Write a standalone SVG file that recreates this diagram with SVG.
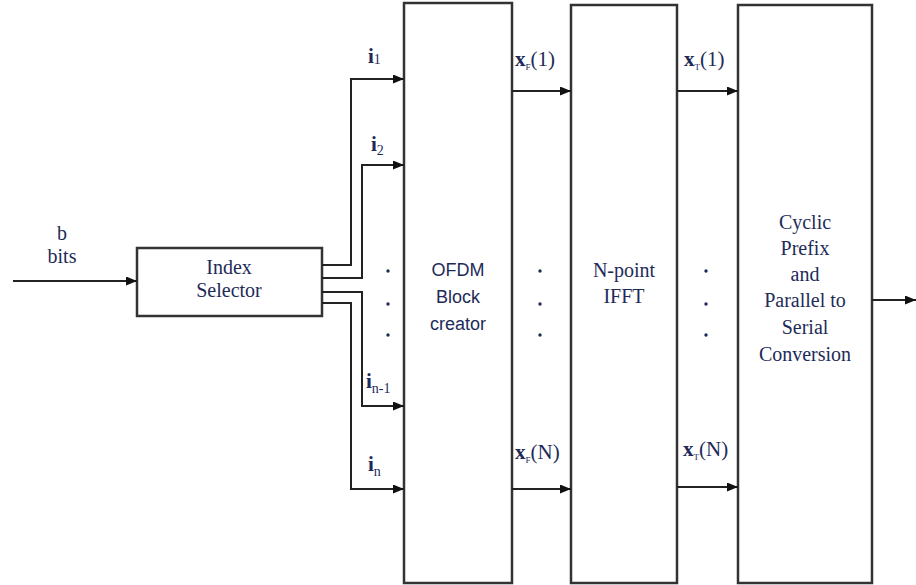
<svg xmlns="http://www.w3.org/2000/svg" width="916" height="585" viewBox="0 0 916 585">
<style>
.box{fill:#fff;stroke:#333;stroke-width:2.5}
.ln{fill:none;stroke:#222;stroke-width:2}
.t{font-family:"Liberation Serif",serif;font-size:20px;fill:#1e2b58;text-anchor:middle}
.s{font-family:"Liberation Sans",sans-serif;font-size:18px;fill:#1e2b58;text-anchor:middle}
.lb{font-family:"Liberation Serif",serif;font-size:21px;fill:#1e2b58}
.b{font-weight:bold}
.sub{font-size:14px}
.xs{font-size:9px}
.dot{fill:#1e2b58}
</style>
<defs>
<marker id="ah" viewBox="0 0 10 10" refX="10" refY="5" markerWidth="11" markerHeight="9" orient="auto" markerUnits="userSpaceOnUse" preserveAspectRatio="none">
<path d="M0,0 L10,5 L0,10 z" fill="#111"/>
</marker>
</defs>
<g id="input-label">
<text class="t" x="62" y="240">b</text>
<text class="t" x="62" y="263">bits</text>
</g>
<g id="index-selector">
<rect class="box" x="137" y="248" width="185" height="68"/>
<text class="t" x="229" y="274">Index</text>
<text class="t" x="229" y="297">Selector</text>
</g>
<g id="ofdm-block">
<rect class="box" x="404" y="3" width="108" height="580"/>
<text class="s" x="458" y="276">OFDM</text>
<text class="s" x="458" y="303">Block</text>
<text class="s" x="458" y="330">creator</text>
</g>
<g id="ifft">
<rect class="box" x="571" y="5" width="106" height="578"/>
<text class="t" x="624" y="277">N-point</text>
<text class="t" x="624" y="303">IFFT</text>
</g>
<g id="cp-ps">
<rect class="box" x="738" y="5" width="134" height="578"/>
<text class="t" x="805" y="229">Cyclic</text>
<text class="t" x="805" y="255">Prefix</text>
<text class="t" x="805" y="281">and</text>
<text class="t" x="805" y="307">Parallel to</text>
<text class="t" x="805" y="334">Serial</text>
<text class="t" x="805" y="361">Conversion</text>
</g>
<g id="connectors">
<line class="ln" x1="13" y1="281" x2="137" y2="281" marker-end="url(#ah)"/>
<polyline class="ln" points="322,265 351,265 351,79 404,79" marker-end="url(#ah)"/>
<polyline class="ln" points="322,278 362,278 362,165 404,165" marker-end="url(#ah)"/>
<polyline class="ln" points="322,292 362,292 362,406 404,406" marker-end="url(#ah)"/>
<polyline class="ln" points="322,303 351,303 351,489 404,489" marker-end="url(#ah)"/>
<line class="ln" x1="512" y1="91" x2="571" y2="91" marker-end="url(#ah)"/>
<line class="ln" x1="512" y1="489" x2="571" y2="489" marker-end="url(#ah)"/>
<line class="ln" x1="677" y1="91" x2="738" y2="91" marker-end="url(#ah)"/>
<line class="ln" x1="677" y1="487" x2="738" y2="487" marker-end="url(#ah)"/>
<line class="ln" x1="872" y1="300" x2="916" y2="300" marker-end="url(#ah)"/>
</g>
<g id="labels">
<text class="lb" x="368" y="63"><tspan class="b">i</tspan><tspan class="sub" dy="1">1</tspan></text>
<text class="lb" x="371" y="151"><tspan class="b">i</tspan><tspan class="sub" dy="4">2</tspan></text>
<text class="lb" x="366" y="388"><tspan class="b">i</tspan><tspan class="sub" dy="5">n-1</tspan></text>
<text class="lb" x="368" y="471"><tspan class="b">i</tspan><tspan class="sub" dy="5">n</tspan></text>
<text class="lb" x="515" y="66"><tspan class="b">x</tspan><tspan class="xs" dy="4">F</tspan><tspan dy="-4">(1)</tspan></text>
<text class="lb" x="684" y="66"><tspan class="b">x</tspan><tspan class="xs" dy="4">T</tspan><tspan dy="-4">(1)</tspan></text>
<text class="lb" x="515" y="459"><tspan class="b">x</tspan><tspan class="xs" dy="4">F</tspan><tspan dy="-4">(N)</tspan></text>
<text class="lb" x="683" y="456"><tspan class="b">x</tspan><tspan class="xs" dy="4">T</tspan><tspan dy="-4">(N)</tspan></text>
</g>
<g id="dots">
<circle class="dot" cx="388" cy="271" r="1.7"/>
<circle class="dot" cx="388" cy="304" r="1.7"/>
<circle class="dot" cx="388" cy="335" r="1.7"/>
<circle class="dot" cx="540" cy="271" r="1.7"/>
<circle class="dot" cx="540" cy="304" r="1.7"/>
<circle class="dot" cx="540" cy="335" r="1.7"/>
<circle class="dot" cx="706" cy="271" r="1.7"/>
<circle class="dot" cx="706" cy="304" r="1.7"/>
<circle class="dot" cx="706" cy="335" r="1.7"/>
</g>
</svg>
